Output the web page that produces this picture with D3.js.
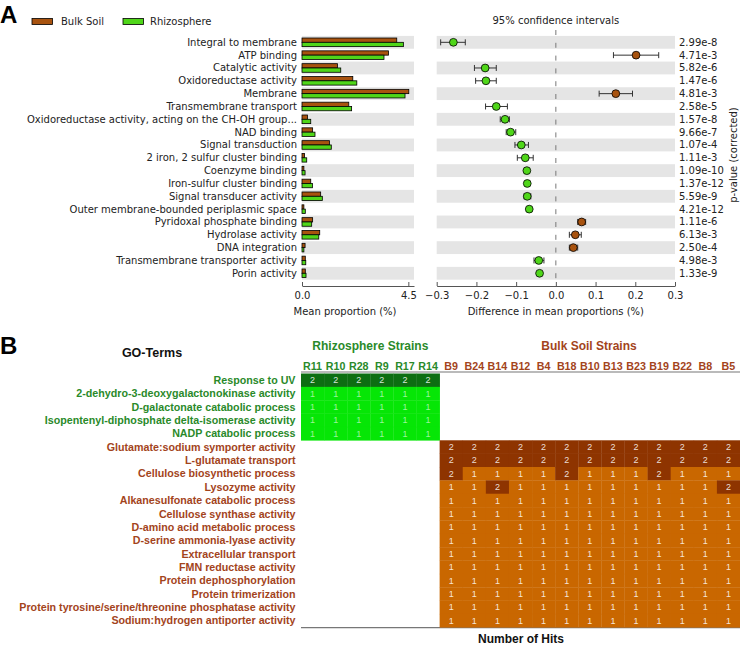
<!DOCTYPE html>
<html><head><meta charset="utf-8">
<script src="https://cdn.jsdelivr.net/npm/d3@7"></script>
<style>body{margin:0;background:#fff}svg{display:block}</style>
</head><body><svg id="chart" width="740" height="647"></svg>
<script>
// ---------- Panel A data ----------
const goTerms = ["Integral to membrane","ATP binding","Catalytic activity","Oxidoreductase activity","Membrane",
  "Transmembrane transport","Oxidoreductase activity, acting on the CH-OH group...","NAD binding","Signal transduction",
  "2 iron, 2 sulfur cluster binding","Coenzyme binding","Iron-sulfur cluster binding","Signal transducer activity",
  "Outer membrane-bounded periplasmic space","Pyridoxal phosphate binding","Hydrolase activity","DNA integration",
  "Transmembrane transporter activity","Porin activity"];
const bulkMean  = [4.01,3.66,1.50,2.15,4.52,1.98,0.23,0.45,1.16,0.11,0.08,0.37,0.79,0.08,0.45,0.75,0.13,0.14,0.14];
const rhizoMean = [4.29,3.47,1.64,2.32,4.36,2.10,0.37,0.55,1.24,0.20,0.13,0.44,0.86,0.14,0.41,0.71,0.08,0.16,0.17];
const diffMean  = [-0.258,0.202,-0.178,-0.176,0.151,-0.150,-0.128,-0.114,-0.087,-0.077,-0.073,-0.072,-0.072,-0.067,0.065,0.049,0.044,-0.043,-0.041];
const ciLow     = [-0.290,0.145,-0.205,-0.202,0.109,-0.177,-0.140,-0.125,-0.103,-0.097,-0.075,-0.074,-0.080,-0.069,0.055,0.034,0.034,-0.055,-0.043];
const ciHigh    = [-0.228,0.259,-0.150,-0.150,0.193,-0.122,-0.117,-0.101,-0.069,-0.057,-0.071,-0.070,-0.063,-0.065,0.075,0.064,0.055,-0.030,-0.039];
const pValues   = ["2.99e-8","4.71e-3","5.82e-6","1.47e-6","4.81e-3","2.58e-5","1.57e-8","9.66e-7","1.07e-4","1.11e-3",
  "1.09e-10","1.37e-12","5.59e-9","4.21e-12","1.11e-6","6.13e-3","2.50e-4","4.98e-3","1.33e-9"];
const meanTicks = [0.0, 4.5];
const diffTicks = [-0.3,-0.2,-0.1,0.0,0.1,0.2,0.3];

// ---------- Panel B data ----------
const rhizoStrains = ["R11","R10","R28","R9","R17","R14"];
const bulkStrains  = ["B9","B24","B14","B12","B4","B18","B10","B13","B23","B19","B22","B8","B5"];
const rhizoTerms = ["Response to UV","2-dehydro-3-deoxygalactonokinase activity","D-galactonate catabolic process",
  "Isopentenyl-diphosphate delta-isomerase activity","NADP catabolic process"];
const bulkTerms = ["Glutamate:sodium symporter activity","L-glutamate transport","Cellulose biosynthetic process",
  "Lysozyme activity","Alkanesulfonate catabolic process","Cellulose synthase activity","D-amino acid metabolic process",
  "D-serine ammonia-lyase activity","Extracellular transport","FMN reductase activity","Protein dephosphorylation",
  "Protein trimerization","Protein tyrosine/serine/threonine phosphatase activity","Sodium:hydrogen antiporter activity"];
const rhizoHits = [
  [2,2,2,2,2,2],[1,1,1,1,1,1],[1,1,1,1,1,1],[1,1,1,1,1,1],[1,1,1,1,1,1]];
const bulkHits = [
  [2,2,2,2,2,2,2,2,2,2,2,2,2],
  [2,2,2,2,2,2,2,2,2,2,2,2,2],
  [2,1,1,1,1,2,1,1,1,2,1,1,1],
  [1,1,2,1,1,1,1,1,1,1,1,1,2],
  [1,1,1,1,1,1,1,1,1,1,1,1,1],
  [1,1,1,1,1,1,1,1,1,1,1,1,1],
  [1,1,1,1,1,1,1,1,1,1,1,1,1],
  [1,1,1,1,1,1,1,1,1,1,1,1,1],
  [1,1,1,1,1,1,1,1,1,1,1,1,1],
  [1,1,1,1,1,1,1,1,1,1,1,1,1],
  [1,1,1,1,1,1,1,1,1,1,1,1,1],
  [1,1,1,1,1,1,1,1,1,1,1,1,1],
  [1,1,1,1,1,1,1,1,1,1,1,1,1],
  [1,1,1,1,1,1,1,1,1,1,1,1,1]];

// ---------- colours ----------
const brown = "#a8530f", green = "#4fd619";
const gridGray = "#e5e5e5";
const mpl = "DejaVu Sans, sans-serif";
const arial = "Liberation Sans, Arial, sans-serif";

const svg = d3.select("#chart");

// ================= PANEL A =================
svg.append("text").attr("x",0).attr("y",23).attr("font-family",arial).attr("font-weight","bold")
  .attr("font-size",24).text("A");

// legend
const legend = [["Bulk Soil",brown,32,61],["Rhizosphere",green,123,150]];
legend.forEach(([t,c,rx,tx])=>{
  svg.append("rect").attr("x",rx).attr("y",18.5).attr("width",20.5).attr("height",6)
    .attr("fill",c).attr("stroke","#000").attr("stroke-width",0.8);
  svg.append("text").attr("x",tx).attr("y",21.5).attr("dy","0.35em").attr("font-family",mpl)
    .attr("font-size",10).attr("fill","#222").text(t);
});

const y = d3.scaleBand().domain(goTerms).range([35.9,279.7]).padding(0);
const xm = d3.scaleLinear().domain([0,4.74]).range([302,414]);
const xd = d3.scaleLinear().domain([-0.3,0.3]).range([436.7,675]);
const axisY = 286;

// gray bands
goTerms.forEach((g,i)=>{
  if(i%2===0){
    svg.append("rect").attr("x",xm(0)).attr("y",y(g)).attr("width",xm.range()[1]-xm(0))
      .attr("height",y.bandwidth()).attr("fill",gridGray);
    svg.append("rect").attr("x",xd(-0.3)).attr("y",y(g)).attr("width",xd(0.3)-xd(-0.3))
      .attr("height",y.bandwidth()).attr("fill",gridGray);
  }
});

// labels
svg.append("g").selectAll("text").data(goTerms).join("text")
  .attr("x",297).attr("y",d=>y(d)+y.bandwidth()/2).attr("dy","0.35em").attr("text-anchor","end")
  .attr("font-family",mpl).attr("font-size",10).attr("fill","#222").text(d=>d);

// bars
const bh = 4.3;
svg.append("g").selectAll("rect").data(goTerms).join("rect")
  .attr("x",xm(0)).attr("y",d=>y(d)+y.bandwidth()/2-bh).attr("width",(d,i)=>xm(bulkMean[i])-xm(0))
  .attr("height",bh).attr("fill",brown).attr("stroke","#000").attr("stroke-width",0.8);
svg.append("g").selectAll("rect").data(goTerms).join("rect")
  .attr("x",xm(0)).attr("y",d=>y(d)+y.bandwidth()/2).attr("width",(d,i)=>xm(rhizoMean[i])-xm(0))
  .attr("height",bh).attr("fill",green).attr("stroke","#000").attr("stroke-width",0.8);

// mean axis
const axM = svg.append("g").attr("transform",`translate(0,${axisY})`)
  .call(d3.axisBottom(xm).tickValues(meanTicks).tickFormat(d3.format(".1f")).tickSizeInner(-4).tickSizeOuter(0).tickPadding(6));
const axD = svg.append("g").attr("transform",`translate(0,${axisY})`)
  .call(d3.axisBottom(xd).tickValues(diffTicks).tickFormat(d=>d3.format(".1f")(d).replace("-","\u2212")).tickSizeInner(-4).tickSizeOuter(0).tickPadding(6));
[axM,axD].forEach(a=>{
  a.select(".domain").attr("stroke","#555");
  a.selectAll(".tick line").attr("stroke","#555");
  a.selectAll(".tick text").attr("font-family",mpl).attr("font-size",10).attr("fill","#222");
});
svg.append("text").attr("x",345).attr("y",311).attr("dy","0.35em").attr("text-anchor","middle")
  .attr("font-family",mpl).attr("font-size",10).attr("fill","#222").text("Mean proportion (%)");
svg.append("text").attr("x",xd(0)).attr("y",311).attr("dy","0.35em").attr("text-anchor","middle")
  .attr("font-family",mpl).attr("font-size",10).attr("fill","#222").text("Difference in mean proportions (%)");

// zero line
svg.append("line").attr("x1",xd(0)).attr("x2",xd(0)).attr("y1",30).attr("y2",axisY)
  .attr("stroke","#777").attr("stroke-width",1).attr("stroke-dasharray","5,7.8");
svg.append("text").attr("x",xd(0)).attr("y",20).attr("dy","0.35em").attr("text-anchor","middle")
  .attr("font-family",mpl).attr("font-size",10).attr("fill","#222").text("95% confidence intervals");

// error bars + points
const eb = svg.append("g");
goTerms.forEach((g,i)=>{
  const cy = y(g)+y.bandwidth()/2;
  eb.append("line").attr("x1",xd(ciLow[i])).attr("x2",xd(ciHigh[i])).attr("y1",cy).attr("y2",cy)
    .attr("stroke","#333").attr("stroke-width",1);
  [ciLow[i],ciHigh[i]].forEach(v=>eb.append("line").attr("x1",xd(v)).attr("x2",xd(v))
    .attr("y1",cy-3).attr("y2",cy+3).attr("stroke","#333").attr("stroke-width",1));
});
svg.append("g").selectAll("circle").data(goTerms).join("circle")
  .attr("cx",(d,i)=>xd(diffMean[i])).attr("cy",d=>y(d)+y.bandwidth()/2).attr("r",3.9)
  .attr("fill",(d,i)=>diffMean[i]>0?brown:green).attr("stroke","#000").attr("stroke-width",0.8);

// p-values
svg.append("g").selectAll("text").data(goTerms).join("text")
  .attr("x",679).attr("y",d=>y(d)+y.bandwidth()/2).attr("dy","0.35em")
  .attr("font-family",mpl).attr("font-size",10).attr("fill","#222").text((d,i)=>pValues[i]);
svg.append("text").attr("transform","translate(733,155) rotate(-90)").attr("dy","0.35em").attr("text-anchor","middle")
  .attr("font-family",mpl).attr("font-size",10).attr("fill","#222").text("p-value (corrected)");

// ================= PANEL B =================
const gText = "#2a8a2a", bText = "#a3441c";
svg.append("text").attr("x",0).attr("y",353.5).attr("font-family",arial).attr("font-weight","bold")
  .attr("font-size",24).text("B");
svg.append("text").attr("x",152).attr("y",353).attr("dy","0.35em").attr("text-anchor","middle")
  .attr("font-family",arial).attr("font-weight","bold").attr("font-size",12.5).attr("fill","#111").text("GO-Terms");

const strains = rhizoStrains.concat(bulkStrains);
const terms = rhizoTerms.concat(bulkTerms);
const xs = d3.scaleBand().domain(strains).range([301,740]);
const ys = d3.scaleBand().domain(terms).range([373.5,627.3]);

svg.append("text").attr("x",(xs("R11")+xs("R14")+xs.bandwidth())/2).attr("y",346).attr("dy","0.35em")
  .attr("text-anchor","middle").attr("font-family",arial).attr("font-weight","bold").attr("font-size",12)
  .attr("fill",gText).text("Rhizosphere Strains");
svg.append("text").attr("x",589).attr("y",346).attr("dy","0.35em")
  .attr("text-anchor","middle").attr("font-family",arial).attr("font-weight","bold").attr("font-size",12)
  .attr("fill",bText).text("Bulk Soil Strains");

// column labels
svg.append("g").selectAll("text").data(strains).join("text")
  .attr("x",d=>xs(d)+xs.bandwidth()/2).attr("y",366).attr("dy","0.35em").attr("text-anchor","middle")
  .attr("font-family",arial).attr("font-weight","bold").attr("font-size",10.7)
  .attr("fill",d=>rhizoStrains.includes(d)?gText:bText).text(d=>d);

// frame lines
svg.append("line").attr("x1",301).attr("x2",740).attr("y1",372).attr("y2",372).attr("stroke","#777").attr("stroke-width",1.2);
svg.append("line").attr("x1",301).attr("x2",740).attr("y1",627.6).attr("y2",627.6).attr("stroke","#777").attr("stroke-width",1.2);

// row labels
svg.append("g").selectAll("text").data(terms).join("text")
  .attr("x",295.5).attr("y",d=>ys(d)+ys.bandwidth()/2).attr("dy","0.35em").attr("text-anchor","end")
  .attr("font-family",arial).attr("font-weight","bold").attr("font-size",10.7)
  .attr("fill",d=>rhizoTerms.includes(d)?gText:bText).text(d=>d);

// cells
const cells = [];
rhizoTerms.forEach((t,i)=>rhizoStrains.forEach((s,j)=>cells.push({t,s,v:rhizoHits[i][j],grp:"R"})));
bulkTerms.forEach((t,i)=>bulkStrains.forEach((s,j)=>cells.push({t,s,v:bulkHits[i][j],grp:"B"})));
const cellColor = d=> d.grp==="R" ? (d.v===2?"#0d6e12":"#06e606") : (d.v===2?"#8e3400":"#c96700");
const cg = svg.append("g");
cg.selectAll("rect").data(cells).join("rect")
  .attr("x",d=>xs(d.s)).attr("y",d=>ys(d.t)).attr("width",xs.bandwidth()+0.3).attr("height",ys.bandwidth()+0.3)
  .attr("fill",cellColor);
cg.selectAll("text").data(cells).join("text")
  .attr("x",d=>xs(d.s)+xs.bandwidth()/2).attr("y",d=>ys(d.t)+ys.bandwidth()/2).attr("dy","0.35em")
  .attr("text-anchor","middle").attr("font-family",arial).attr("font-size",9)
  .attr("fill","#fff").attr("fill-opacity",d=>d.grp==="R"&&d.v===1?0.6:0.85).text(d=>d.v);

svg.append("text").attr("x",521).attr("y",639).attr("dy","0.35em").attr("text-anchor","middle")
  .attr("font-family",arial).attr("font-weight","bold").attr("font-size",12).attr("fill","#111").text("Number of Hits");
</script></body></html>
